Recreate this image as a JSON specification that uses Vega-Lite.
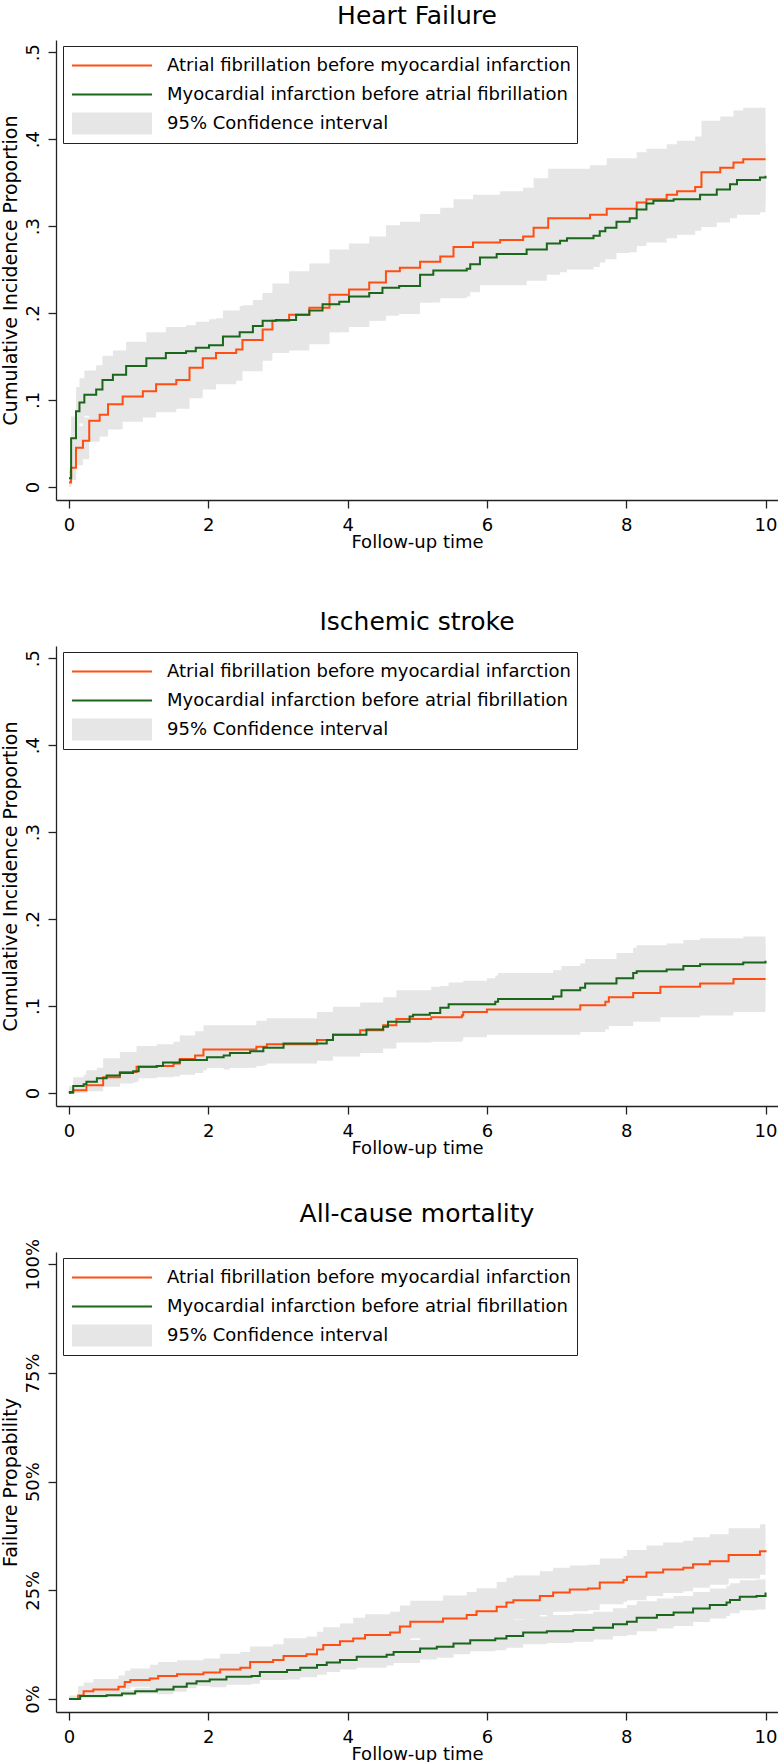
{
  "$schema": "https://vega.github.io/schema/vega-lite/v6.json",
  "padding": {"left": 1, "top": 4, "right": 0, "bottom": 0},
  "background": "white",
  "bounds": "flush",
  "spacing": 146,
  "resolve": {
    "scale": {"stroke": "independent", "strokeWidth": "independent"},
    "legend": {"stroke": "independent", "strokeWidth": "independent"}
  },
  "config": {
    "font": "DejaVu Sans",
    "view": {"stroke": null},
    "title": {"font": "DejaVu Sans", "fontSize": 25, "fontWeight": "normal", "color": "black", "anchor": "middle", "baseline": "alphabetic", "offset": 11, "frame": "group"},
    "axis": {
      "grid": false, "domainColor": "#222", "domainWidth": 1.3, "tickColor": "#222", "tickWidth": 1.3, "tickSize": 8,
      "labelFont": "DejaVu Sans", "labelFontSize": 18, "labelColor": "black", "labelFlush": false,
      "titleFont": "DejaVu Sans", "titleFontSize": 18, "titleFontWeight": "normal", "titleColor": "black"
    },
    "legend": {
      "orient": "none", "legendX": 7, "legendY": 6, "direction": "vertical", "padding": 6,
      "strokeColor": "#222", "fillColor": "white",
      "symbolSize": 6400, "symbolType": "M-1,0H1", "symbolOffset": -8,
      "clipHeight": 27, "rowPadding": 2, "labelOffset": 4, "labelLimit": 700,
      "labelFont": "DejaVu Sans", "labelFontSize": 18, "labelColor": "black"
    }
  },
  "datasets": {
    "hf": [
      {"g":"AF","t":0,"est":0.005,"lo":0.000,"hi":0.012},
      {"g":"AF","t":0.03,"est":0.022,"lo":0.008,"hi":0.040},
      {"g":"AF","t":0.1,"est":0.045,"lo":0.025,"hi":0.070},
      {"g":"AF","t":0.2,"est":0.053,"lo":0.032,"hi":0.080},
      {"g":"AF","t":0.29,"est":0.076,"lo":0.052,"hi":0.104},
      {"g":"AF","t":0.44,"est":0.083,"lo":0.058,"hi":0.112},
      {"g":"AF","t":0.56,"est":0.095,"lo":0.066,"hi":0.128},
      {"g":"AF","t":0.77,"est":0.104,"lo":0.075,"hi":0.137},
      {"g":"AF","t":1.06,"est":0.110,"lo":0.080,"hi":0.143},
      {"g":"AF","t":1.25,"est":0.118,"lo":0.086,"hi":0.152},
      {"g":"AF","t":1.54,"est":0.123,"lo":0.090,"hi":0.159},
      {"g":"AF","t":1.73,"est":0.137,"lo":0.102,"hi":0.176},
      {"g":"AF","t":1.92,"est":0.148,"lo":0.112,"hi":0.188},
      {"g":"AF","t":2.11,"est":0.154,"lo":0.118,"hi":0.194},
      {"g":"AF","t":2.40,"est":0.158,"lo":0.122,"hi":0.198},
      {"g":"AF","t":2.49,"est":0.169,"lo":0.133,"hi":0.209},
      {"g":"AF","t":2.78,"est":0.181,"lo":0.145,"hi":0.223},
      {"g":"AF","t":2.92,"est":0.191,"lo":0.154,"hi":0.234},
      {"g":"AF","t":3.16,"est":0.198,"lo":0.157,"hi":0.248},
      {"g":"AF","t":3.45,"est":0.206,"lo":0.164,"hi":0.257},
      {"g":"AF","t":3.74,"est":0.221,"lo":0.178,"hi":0.273},
      {"g":"AF","t":4.02,"est":0.227,"lo":0.184,"hi":0.280},
      {"g":"AF","t":4.31,"est":0.235,"lo":0.191,"hi":0.288},
      {"g":"AF","t":4.55,"est":0.248,"lo":0.203,"hi":0.301},
      {"g":"AF","t":4.75,"est":0.252,"lo":0.207,"hi":0.305},
      {"g":"AF","t":5.04,"est":0.259,"lo":0.212,"hi":0.314},
      {"g":"AF","t":5.33,"est":0.265,"lo":0.218,"hi":0.321},
      {"g":"AF","t":5.52,"est":0.276,"lo":0.229,"hi":0.331},
      {"g":"AF","t":5.80,"est":0.281,"lo":0.234,"hi":0.336},
      {"g":"AF","t":6.19,"est":0.284,"lo":0.236,"hi":0.340},
      {"g":"AF","t":6.52,"est":0.288,"lo":0.240,"hi":0.344},
      {"g":"AF","t":6.67,"est":0.298,"lo":0.250,"hi":0.355},
      {"g":"AF","t":6.88,"est":0.309,"lo":0.260,"hi":0.366},
      {"g":"AF","t":7.48,"est":0.313,"lo":0.263,"hi":0.370},
      {"g":"AF","t":7.72,"est":0.320,"lo":0.270,"hi":0.378},
      {"g":"AF","t":8.15,"est":0.327,"lo":0.277,"hi":0.385},
      {"g":"AF","t":8.29,"est":0.331,"lo":0.281,"hi":0.389},
      {"g":"AF","t":8.58,"est":0.336,"lo":0.286,"hi":0.394},
      {"g":"AF","t":8.73,"est":0.340,"lo":0.290,"hi":0.398},
      {"g":"AF","t":8.99,"est":0.345,"lo":0.295,"hi":0.403},
      {"g":"AF","t":9.08,"est":0.362,"lo":0.311,"hi":0.421},
      {"g":"AF","t":9.35,"est":0.367,"lo":0.316,"hi":0.426},
      {"g":"AF","t":9.54,"est":0.373,"lo":0.322,"hi":0.433},
      {"g":"AF","t":9.68,"est":0.377,"lo":0.326,"hi":0.436},
      {"g":"AF","t":10,"est":0.377,"lo":0.326,"hi":0.436},
      {"g":"MI","t":0,"est":0.010,"lo":0.002,"hi":0.020},
      {"g":"MI","t":0.03,"est":0.056,"lo":0.036,"hi":0.081},
      {"g":"MI","t":0.1,"est":0.087,"lo":0.063,"hi":0.115},
      {"g":"MI","t":0.15,"est":0.097,"lo":0.073,"hi":0.125},
      {"g":"MI","t":0.22,"est":0.106,"lo":0.082,"hi":0.134},
      {"g":"MI","t":0.39,"est":0.112,"lo":0.088,"hi":0.140},
      {"g":"MI","t":0.48,"est":0.123,"lo":0.099,"hi":0.151},
      {"g":"MI","t":0.63,"est":0.129,"lo":0.105,"hi":0.157},
      {"g":"MI","t":0.82,"est":0.139,"lo":0.115,"hi":0.167},
      {"g":"MI","t":1.11,"est":0.148,"lo":0.121,"hi":0.178},
      {"g":"MI","t":1.39,"est":0.154,"lo":0.127,"hi":0.184},
      {"g":"MI","t":1.68,"est":0.156,"lo":0.129,"hi":0.186},
      {"g":"MI","t":1.82,"est":0.160,"lo":0.133,"hi":0.190},
      {"g":"MI","t":2.01,"est":0.163,"lo":0.136,"hi":0.193},
      {"g":"MI","t":2.21,"est":0.173,"lo":0.146,"hi":0.203},
      {"g":"MI","t":2.45,"est":0.178,"lo":0.151,"hi":0.208},
      {"g":"MI","t":2.64,"est":0.185,"lo":0.158,"hi":0.215},
      {"g":"MI","t":2.78,"est":0.191,"lo":0.164,"hi":0.221},
      {"g":"MI","t":2.97,"est":0.192,"lo":0.165,"hi":0.222},
      {"g":"MI","t":3.26,"est":0.198,"lo":0.166,"hi":0.233},
      {"g":"MI","t":3.45,"est":0.203,"lo":0.171,"hi":0.238},
      {"g":"MI","t":3.64,"est":0.210,"lo":0.178,"hi":0.245},
      {"g":"MI","t":3.88,"est":0.213,"lo":0.181,"hi":0.248},
      {"g":"MI","t":4.02,"est":0.219,"lo":0.187,"hi":0.254},
      {"g":"MI","t":4.31,"est":0.223,"lo":0.191,"hi":0.258},
      {"g":"MI","t":4.50,"est":0.229,"lo":0.197,"hi":0.264},
      {"g":"MI","t":4.74,"est":0.231,"lo":0.199,"hi":0.266},
      {"g":"MI","t":5.04,"est":0.244,"lo":0.212,"hi":0.279},
      {"g":"MI","t":5.23,"est":0.249,"lo":0.217,"hi":0.284},
      {"g":"MI","t":5.71,"est":0.251,"lo":0.219,"hi":0.286},
      {"g":"MI","t":5.76,"est":0.256,"lo":0.224,"hi":0.291},
      {"g":"MI","t":5.90,"est":0.264,"lo":0.232,"hi":0.299},
      {"g":"MI","t":6.14,"est":0.268,"lo":0.232,"hi":0.308},
      {"g":"MI","t":6.57,"est":0.273,"lo":0.237,"hi":0.313},
      {"g":"MI","t":6.86,"est":0.280,"lo":0.244,"hi":0.320},
      {"g":"MI","t":7.05,"est":0.283,"lo":0.247,"hi":0.323},
      {"g":"MI","t":7.15,"est":0.286,"lo":0.250,"hi":0.326},
      {"g":"MI","t":7.53,"est":0.289,"lo":0.253,"hi":0.329},
      {"g":"MI","t":7.62,"est":0.294,"lo":0.258,"hi":0.334},
      {"g":"MI","t":7.70,"est":0.298,"lo":0.262,"hi":0.338},
      {"g":"MI","t":7.86,"est":0.305,"lo":0.269,"hi":0.345},
      {"g":"MI","t":8.05,"est":0.309,"lo":0.273,"hi":0.349},
      {"g":"MI","t":8.15,"est":0.319,"lo":0.283,"hi":0.359},
      {"g":"MI","t":8.29,"est":0.326,"lo":0.290,"hi":0.366},
      {"g":"MI","t":8.39,"est":0.329,"lo":0.293,"hi":0.369},
      {"g":"MI","t":8.68,"est":0.331,"lo":0.295,"hi":0.371},
      {"g":"MI","t":9.06,"est":0.336,"lo":0.299,"hi":0.376},
      {"g":"MI","t":9.30,"est":0.342,"lo":0.304,"hi":0.382},
      {"g":"MI","t":9.49,"est":0.348,"lo":0.309,"hi":0.388},
      {"g":"MI","t":9.59,"est":0.353,"lo":0.313,"hi":0.393},
      {"g":"MI","t":9.92,"est":0.356,"lo":0.316,"hi":0.396},
      {"g":"MI","t":10,"est":0.358,"lo":0.317,"hi":0.398}
    ],
    "stroke": [
      {"g":"AF","t":0,"est":0.000,"lo":0.000,"hi":0.008},
      {"g":"AF","t":0.06,"est":0.003,"lo":0.000,"hi":0.015},
      {"g":"AF","t":0.25,"est":0.009,"lo":0.002,"hi":0.026},
      {"g":"AF","t":0.49,"est":0.018,"lo":0.007,"hi":0.040},
      {"g":"AF","t":0.73,"est":0.024,"lo":0.012,"hi":0.047},
      {"g":"AF","t":0.97,"est":0.030,"lo":0.017,"hi":0.054},
      {"g":"AF","t":1.26,"est":0.031,"lo":0.018,"hi":0.056},
      {"g":"AF","t":1.50,"est":0.034,"lo":0.019,"hi":0.059},
      {"g":"AF","t":1.59,"est":0.039,"lo":0.021,"hi":0.066},
      {"g":"AF","t":1.81,"est":0.043,"lo":0.023,"hi":0.071},
      {"g":"AF","t":1.93,"est":0.050,"lo":0.029,"hi":0.078},
      {"g":"AF","t":2.69,"est":0.053,"lo":0.032,"hi":0.083},
      {"g":"AF","t":2.84,"est":0.056,"lo":0.034,"hi":0.086},
      {"g":"AF","t":3.56,"est":0.061,"lo":0.037,"hi":0.093},
      {"g":"AF","t":3.79,"est":0.067,"lo":0.042,"hi":0.099},
      {"g":"AF","t":4.18,"est":0.072,"lo":0.046,"hi":0.104},
      {"g":"AF","t":4.51,"est":0.078,"lo":0.051,"hi":0.110},
      {"g":"AF","t":4.70,"est":0.085,"lo":0.058,"hi":0.118},
      {"g":"AF","t":5.20,"est":0.087,"lo":0.059,"hi":0.122},
      {"g":"AF","t":5.64,"est":0.089,"lo":0.060,"hi":0.125},
      {"g":"AF","t":5.66,"est":0.093,"lo":0.064,"hi":0.129},
      {"g":"AF","t":6.00,"est":0.096,"lo":0.067,"hi":0.132},
      {"g":"AF","t":7.34,"est":0.101,"lo":0.070,"hi":0.140},
      {"g":"AF","t":7.70,"est":0.105,"lo":0.073,"hi":0.145},
      {"g":"AF","t":7.75,"est":0.110,"lo":0.077,"hi":0.150},
      {"g":"AF","t":8.10,"est":0.115,"lo":0.082,"hi":0.155},
      {"g":"AF","t":8.49,"est":0.122,"lo":0.087,"hi":0.162},
      {"g":"AF","t":9.06,"est":0.126,"lo":0.089,"hi":0.166},
      {"g":"AF","t":9.54,"est":0.131,"lo":0.093,"hi":0.171},
      {"g":"AF","t":10,"est":0.131,"lo":0.093,"hi":0.171},
      {"g":"MI","t":0,"est":0.000,"lo":0.000,"hi":0.004},
      {"g":"MI","t":0.01,"est":0.001,"lo":0.000,"hi":0.008},
      {"g":"MI","t":0.06,"est":0.008,"lo":0.002,"hi":0.018},
      {"g":"MI","t":0.21,"est":0.010,"lo":0.004,"hi":0.021},
      {"g":"MI","t":0.25,"est":0.013,"lo":0.006,"hi":0.025},
      {"g":"MI","t":0.40,"est":0.017,"lo":0.010,"hi":0.029},
      {"g":"MI","t":0.54,"est":0.020,"lo":0.009,"hi":0.035},
      {"g":"MI","t":0.73,"est":0.023,"lo":0.011,"hi":0.039},
      {"g":"MI","t":0.92,"est":0.025,"lo":0.013,"hi":0.041},
      {"g":"MI","t":1.00,"est":0.030,"lo":0.018,"hi":0.046},
      {"g":"MI","t":1.26,"est":0.031,"lo":0.019,"hi":0.047},
      {"g":"MI","t":1.35,"est":0.035,"lo":0.023,"hi":0.051},
      {"g":"MI","t":1.59,"est":0.038,"lo":0.026,"hi":0.054},
      {"g":"MI","t":1.98,"est":0.041,"lo":0.029,"hi":0.057},
      {"g":"MI","t":2.22,"est":0.043,"lo":0.027,"hi":0.064},
      {"g":"MI","t":2.31,"est":0.046,"lo":0.029,"hi":0.067},
      {"g":"MI","t":2.60,"est":0.048,"lo":0.031,"hi":0.069},
      {"g":"MI","t":2.79,"est":0.052,"lo":0.035,"hi":0.073},
      {"g":"MI","t":3.08,"est":0.057,"lo":0.040,"hi":0.078},
      {"g":"MI","t":3.70,"est":0.061,"lo":0.044,"hi":0.082},
      {"g":"MI","t":3.79,"est":0.067,"lo":0.050,"hi":0.088},
      {"g":"MI","t":4.27,"est":0.073,"lo":0.052,"hi":0.098},
      {"g":"MI","t":4.51,"est":0.076,"lo":0.055,"hi":0.101},
      {"g":"MI","t":4.58,"est":0.082,"lo":0.061,"hi":0.107},
      {"g":"MI","t":4.89,"est":0.088,"lo":0.067,"hi":0.113},
      {"g":"MI","t":4.94,"est":0.090,"lo":0.069,"hi":0.115},
      {"g":"MI","t":5.18,"est":0.092,"lo":0.071,"hi":0.117},
      {"g":"MI","t":5.33,"est":0.098,"lo":0.077,"hi":0.123},
      {"g":"MI","t":5.45,"est":0.102,"lo":0.081,"hi":0.127},
      {"g":"MI","t":6.12,"est":0.105,"lo":0.080,"hi":0.135},
      {"g":"MI","t":6.16,"est":0.108,"lo":0.083,"hi":0.138},
      {"g":"MI","t":6.95,"est":0.111,"lo":0.086,"hi":0.141},
      {"g":"MI","t":7.07,"est":0.118,"lo":0.093,"hi":0.146},
      {"g":"MI","t":7.34,"est":0.121,"lo":0.096,"hi":0.149},
      {"g":"MI","t":7.41,"est":0.126,"lo":0.100,"hi":0.154},
      {"g":"MI","t":7.86,"est":0.132,"lo":0.106,"hi":0.161},
      {"g":"MI","t":8.10,"est":0.138,"lo":0.112,"hi":0.167},
      {"g":"MI","t":8.15,"est":0.140,"lo":0.114,"hi":0.170},
      {"g":"MI","t":8.58,"est":0.142,"lo":0.115,"hi":0.172},
      {"g":"MI","t":8.82,"est":0.146,"lo":0.119,"hi":0.176},
      {"g":"MI","t":9.06,"est":0.148,"lo":0.121,"hi":0.178},
      {"g":"MI","t":9.68,"est":0.150,"lo":0.123,"hi":0.180},
      {"g":"MI","t":10,"est":0.152,"lo":0.125,"hi":0.182}
    ],
    "mort": [
      {"g":"AF","t":0,"est":0.000,"lo":0.000,"hi":0.008},
      {"g":"AF","t":0.13,"est":0.008,"lo":0.002,"hi":0.030},
      {"g":"AF","t":0.21,"est":0.018,"lo":0.008,"hi":0.038},
      {"g":"AF","t":0.35,"est":0.022,"lo":0.006,"hi":0.046},
      {"g":"AF","t":0.71,"est":0.028,"lo":0.012,"hi":0.054},
      {"g":"AF","t":0.80,"est":0.039,"lo":0.023,"hi":0.065},
      {"g":"AF","t":0.88,"est":0.044,"lo":0.028,"hi":0.070},
      {"g":"AF","t":1.16,"est":0.047,"lo":0.023,"hi":0.079},
      {"g":"AF","t":1.28,"est":0.053,"lo":0.029,"hi":0.085},
      {"g":"AF","t":1.55,"est":0.057,"lo":0.033,"hi":0.089},
      {"g":"AF","t":1.93,"est":0.061,"lo":0.037,"hi":0.093},
      {"g":"AF","t":2.17,"est":0.068,"lo":0.038,"hi":0.104},
      {"g":"AF","t":2.46,"est":0.072,"lo":0.042,"hi":0.108},
      {"g":"AF","t":2.60,"est":0.085,"lo":0.055,"hi":0.121},
      {"g":"AF","t":2.93,"est":0.090,"lo":0.060,"hi":0.126},
      {"g":"AF","t":3.08,"est":0.099,"lo":0.065,"hi":0.140},
      {"g":"AF","t":3.41,"est":0.103,"lo":0.069,"hi":0.144},
      {"g":"AF","t":3.56,"est":0.114,"lo":0.080,"hi":0.155},
      {"g":"AF","t":3.65,"est":0.124,"lo":0.090,"hi":0.165},
      {"g":"AF","t":3.89,"est":0.133,"lo":0.099,"hi":0.174},
      {"g":"AF","t":4.08,"est":0.139,"lo":0.101,"hi":0.187},
      {"g":"AF","t":4.25,"est":0.147,"lo":0.109,"hi":0.195},
      {"g":"AF","t":4.61,"est":0.153,"lo":0.115,"hi":0.201},
      {"g":"AF","t":4.75,"est":0.167,"lo":0.129,"hi":0.215},
      {"g":"AF","t":4.90,"est":0.178,"lo":0.140,"hi":0.226},
      {"g":"AF","t":5.37,"est":0.185,"lo":0.144,"hi":0.238},
      {"g":"AF","t":5.71,"est":0.193,"lo":0.152,"hi":0.246},
      {"g":"AF","t":5.85,"est":0.202,"lo":0.161,"hi":0.255},
      {"g":"AF","t":6.14,"est":0.212,"lo":0.168,"hi":0.269},
      {"g":"AF","t":6.28,"est":0.222,"lo":0.178,"hi":0.279},
      {"g":"AF","t":6.38,"est":0.227,"lo":0.183,"hi":0.284},
      {"g":"AF","t":6.76,"est":0.237,"lo":0.193,"hi":0.294},
      {"g":"AF","t":6.95,"est":0.245,"lo":0.201,"hi":0.302},
      {"g":"AF","t":7.19,"est":0.252,"lo":0.202,"hi":0.307},
      {"g":"AF","t":7.45,"est":0.254,"lo":0.204,"hi":0.309},
      {"g":"AF","t":7.62,"est":0.268,"lo":0.218,"hi":0.323},
      {"g":"AF","t":7.96,"est":0.274,"lo":0.224,"hi":0.329},
      {"g":"AF","t":8.01,"est":0.281,"lo":0.227,"hi":0.343},
      {"g":"AF","t":8.29,"est":0.291,"lo":0.237,"hi":0.353},
      {"g":"AF","t":8.53,"est":0.298,"lo":0.244,"hi":0.360},
      {"g":"AF","t":8.82,"est":0.302,"lo":0.248,"hi":0.364},
      {"g":"AF","t":8.96,"est":0.310,"lo":0.256,"hi":0.372},
      {"g":"AF","t":9.20,"est":0.317,"lo":0.263,"hi":0.379},
      {"g":"AF","t":9.47,"est":0.331,"lo":0.277,"hi":0.393},
      {"g":"AF","t":9.92,"est":0.340,"lo":0.286,"hi":0.402},
      {"g":"AF","t":10,"est":0.342,"lo":0.288,"hi":0.404},
      {"g":"MI","t":0,"est":0.000,"lo":0.000,"hi":0.004},
      {"g":"MI","t":0.16,"est":0.007,"lo":0.002,"hi":0.015},
      {"g":"MI","t":0.54,"est":0.009,"lo":0.004,"hi":0.017},
      {"g":"MI","t":0.76,"est":0.013,"lo":0.008,"hi":0.021},
      {"g":"MI","t":0.95,"est":0.018,"lo":0.013,"hi":0.026},
      {"g":"MI","t":1.26,"est":0.022,"lo":0.011,"hi":0.036},
      {"g":"MI","t":1.50,"est":0.028,"lo":0.017,"hi":0.042},
      {"g":"MI","t":1.69,"est":0.036,"lo":0.025,"hi":0.050},
      {"g":"MI","t":1.83,"est":0.041,"lo":0.030,"hi":0.055},
      {"g":"MI","t":2.02,"est":0.045,"lo":0.027,"hi":0.065},
      {"g":"MI","t":2.26,"est":0.051,"lo":0.033,"hi":0.071},
      {"g":"MI","t":2.62,"est":0.053,"lo":0.035,"hi":0.073},
      {"g":"MI","t":2.74,"est":0.062,"lo":0.044,"hi":0.082},
      {"g":"MI","t":3.13,"est":0.067,"lo":0.045,"hi":0.092},
      {"g":"MI","t":3.32,"est":0.072,"lo":0.050,"hi":0.097},
      {"g":"MI","t":3.56,"est":0.078,"lo":0.056,"hi":0.103},
      {"g":"MI","t":3.70,"est":0.084,"lo":0.062,"hi":0.109},
      {"g":"MI","t":3.89,"est":0.090,"lo":0.068,"hi":0.115},
      {"g":"MI","t":4.13,"est":0.097,"lo":0.072,"hi":0.125},
      {"g":"MI","t":4.56,"est":0.102,"lo":0.077,"hi":0.130},
      {"g":"MI","t":4.66,"est":0.108,"lo":0.083,"hi":0.136},
      {"g":"MI","t":5.04,"est":0.116,"lo":0.091,"hi":0.148},
      {"g":"MI","t":5.28,"est":0.120,"lo":0.095,"hi":0.152},
      {"g":"MI","t":5.52,"est":0.128,"lo":0.103,"hi":0.160},
      {"g":"MI","t":5.76,"est":0.135,"lo":0.110,"hi":0.167},
      {"g":"MI","t":6.12,"est":0.139,"lo":0.112,"hi":0.176},
      {"g":"MI","t":6.28,"est":0.145,"lo":0.118,"hi":0.182},
      {"g":"MI","t":6.52,"est":0.153,"lo":0.126,"hi":0.190},
      {"g":"MI","t":6.86,"est":0.156,"lo":0.129,"hi":0.193},
      {"g":"MI","t":7.24,"est":0.159,"lo":0.132,"hi":0.196},
      {"g":"MI","t":7.53,"est":0.164,"lo":0.137,"hi":0.201},
      {"g":"MI","t":7.81,"est":0.172,"lo":0.145,"hi":0.209},
      {"g":"MI","t":8.01,"est":0.178,"lo":0.147,"hi":0.216},
      {"g":"MI","t":8.15,"est":0.187,"lo":0.156,"hi":0.225},
      {"g":"MI","t":8.44,"est":0.193,"lo":0.162,"hi":0.231},
      {"g":"MI","t":8.68,"est":0.199,"lo":0.168,"hi":0.237},
      {"g":"MI","t":8.96,"est":0.208,"lo":0.177,"hi":0.246},
      {"g":"MI","t":9.20,"est":0.216,"lo":0.185,"hi":0.254},
      {"g":"MI","t":9.44,"est":0.222,"lo":0.191,"hi":0.260},
      {"g":"MI","t":9.49,"est":0.228,"lo":0.197,"hi":0.266},
      {"g":"MI","t":9.63,"est":0.235,"lo":0.204,"hi":0.273},
      {"g":"MI","t":9.87,"est":0.237,"lo":0.206,"hi":0.275},
      {"g":"MI","t":10,"est":0.245,"lo":0.214,"hi":0.283}
    ]
  },
  "vconcat": [
    {
      "title": "Heart Failure",
      "width": 722,
      "height": 460,
      "data": {"name": "hf"},
      "encoding": {
        "x": {"field": "t", "type": "quantitative", "title": "Follow-up time",
          "scale": {"domain": [-0.187, 10.179], "nice": false, "zero": false},
          "axis": {"values": [0, 2, 4, 6, 8, 10], "labelBaseline": "alphabetic", "labelPadding": 22, "titleBaseline": "alphabetic", "titleY": 47}}
      },
      "layer": [
        {
          "mark": {"type": "area", "interpolate": "step-after", "fill": "#e6e6e6", "opacity": 1},
          "encoding": {
            "y": {"field": "lo", "type": "quantitative", "title": "Cumulative Incidence Proportion",
              "scale": {"domain": [-0.015, 0.514], "nice": false, "zero": false},
              "axis": {"values": [0, 0.1, 0.2, 0.3, 0.4, 0.5], "labelExpr": "datum.value == 0 ? '0' : '.' + format(datum.value * 10, 'd')",
                "labelAngle": -90, "labelAlign": "center", "labelBaseline": "alphabetic", "labelPadding": 9.5, "titlePadding": 4, "titleFontSize": 19}},
            "y2": {"field": "hi"},
            "detail": {"field": "g"}
          }
        },
        {
          "mark": {"type": "line", "interpolate": "step-after"},
          "encoding": {
            "y": {"field": "est", "type": "quantitative", "title": "Cumulative Incidence Proportion"},
            "stroke": {"field": "g", "type": "nominal", "scale": {"domain": ["AF", "MI", "CI"], "range": ["#ff4e12", "#1a661a", "#e6e6e6"]},
              "legend": {"title": null, "labelExpr": "datum.value === 'AF' ? 'Atrial fibrillation before myocardial infarction' : datum.value === 'MI' ? 'Myocardial infarction before atrial fibrillation' : '95% Confidence interval'"}},
            "strokeWidth": {"field": "g", "type": "nominal", "scale": {"type": "ordinal", "domain": ["AF", "MI", "CI"], "range": [2, 2, 22]},
              "legend": {"title": null, "labelExpr": "datum.value === 'AF' ? 'Atrial fibrillation before myocardial infarction' : datum.value === 'MI' ? 'Myocardial infarction before atrial fibrillation' : '95% Confidence interval'"}}
          }
        }
      ]
    },
    {
      "title": "Ischemic stroke",
      "width": 722,
      "height": 460,
      "data": {"name": "stroke"},
      "encoding": {
        "x": {"field": "t", "type": "quantitative", "title": "Follow-up time",
          "scale": {"domain": [-0.187, 10.179], "nice": false, "zero": false},
          "axis": {"values": [0, 2, 4, 6, 8, 10], "labelBaseline": "alphabetic", "labelPadding": 22, "titleBaseline": "alphabetic", "titleY": 47}}
      },
      "layer": [
        {
          "mark": {"type": "area", "interpolate": "step-after", "fill": "#e6e6e6", "opacity": 1},
          "encoding": {
            "y": {"field": "lo", "type": "quantitative", "title": "Cumulative Incidence Proportion",
              "scale": {"domain": [-0.015, 0.514], "nice": false, "zero": false},
              "axis": {"values": [0, 0.1, 0.2, 0.3, 0.4, 0.5], "labelExpr": "datum.value == 0 ? '0' : '.' + format(datum.value * 10, 'd')",
                "labelAngle": -90, "labelAlign": "center", "labelBaseline": "alphabetic", "labelPadding": 9.5, "titlePadding": 4, "titleFontSize": 19}},
            "y2": {"field": "hi"},
            "detail": {"field": "g"}
          }
        },
        {
          "mark": {"type": "line", "interpolate": "step-after"},
          "encoding": {
            "y": {"field": "est", "type": "quantitative", "title": "Cumulative Incidence Proportion"},
            "stroke": {"field": "g", "type": "nominal", "scale": {"domain": ["AF", "MI", "CI"], "range": ["#ff4e12", "#1a661a", "#e6e6e6"]},
              "legend": {"title": null, "labelExpr": "datum.value === 'AF' ? 'Atrial fibrillation before myocardial infarction' : datum.value === 'MI' ? 'Myocardial infarction before atrial fibrillation' : '95% Confidence interval'"}},
            "strokeWidth": {"field": "g", "type": "nominal", "scale": {"type": "ordinal", "domain": ["AF", "MI", "CI"], "range": [2, 2, 22]},
              "legend": {"title": null, "labelExpr": "datum.value === 'AF' ? 'Atrial fibrillation before myocardial infarction' : datum.value === 'MI' ? 'Myocardial infarction before atrial fibrillation' : '95% Confidence interval'"}}
          }
        }
      ]
    },
    {
      "title": "All-cause mortality",
      "width": 722,
      "height": 460,
      "data": {"name": "mort"},
      "encoding": {
        "x": {"field": "t", "type": "quantitative", "title": "Follow-up time",
          "scale": {"domain": [-0.187, 10.179], "nice": false, "zero": false},
          "axis": {"values": [0, 2, 4, 6, 8, 10], "labelBaseline": "alphabetic", "labelPadding": 22, "titleBaseline": "alphabetic", "titleY": 47}}
      },
      "layer": [
        {
          "mark": {"type": "area", "interpolate": "step-after", "fill": "#e6e6e6", "opacity": 1},
          "encoding": {
            "y": {"field": "lo", "type": "quantitative", "title": "Failure Propability",
              "scale": {"domain": [-0.0298, 1.028], "nice": false, "zero": false},
              "axis": {"values": [0, 0.25, 0.5, 0.75, 1], "format": ".0%",
                "labelAngle": -90, "labelAlign": "center", "labelBaseline": "alphabetic", "labelPadding": 9.5, "titlePadding": 4, "titleFontSize": 19}},
            "y2": {"field": "hi"},
            "detail": {"field": "g"}
          }
        },
        {
          "mark": {"type": "line", "interpolate": "step-after"},
          "encoding": {
            "y": {"field": "est", "type": "quantitative", "title": "Failure Propability"},
            "stroke": {"field": "g", "type": "nominal", "scale": {"domain": ["AF", "MI", "CI"], "range": ["#ff4e12", "#1a661a", "#e6e6e6"]},
              "legend": {"title": null, "labelExpr": "datum.value === 'AF' ? 'Atrial fibrillation before myocardial infarction' : datum.value === 'MI' ? 'Myocardial infarction before atrial fibrillation' : '95% Confidence interval'"}},
            "strokeWidth": {"field": "g", "type": "nominal", "scale": {"type": "ordinal", "domain": ["AF", "MI", "CI"], "range": [2, 2, 22]},
              "legend": {"title": null, "labelExpr": "datum.value === 'AF' ? 'Atrial fibrillation before myocardial infarction' : datum.value === 'MI' ? 'Myocardial infarction before atrial fibrillation' : '95% Confidence interval'"}}
          }
        }
      ]
    }
  ]
}
